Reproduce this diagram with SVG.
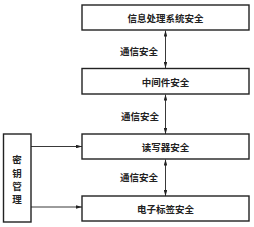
<svg xmlns="http://www.w3.org/2000/svg" width="254" height="227" viewBox="0 0 254 227">
<style>
.box{fill:#fff;stroke:#222;stroke-width:1.4}
.t{font-family:"Noto Sans CJK SC","Noto Sans CJK TC",sans-serif;font-size:9.5px;font-weight:600;fill:#222;text-anchor:middle;dominant-baseline:central}
.ln{stroke:#222;stroke-width:0.9;fill:none}
</style>
<defs>
<marker id="ah" viewBox="0 0 10 6" refX="10" refY="3" markerWidth="6" markerHeight="3.6" orient="auto-start-reverse" markerUnits="userSpaceOnUse">
<path d="M0,0 L10,3 L0,6 z" fill="#222"/>
</marker>
</defs>
<rect width="254" height="227" fill="#fff"/>
<g id="connectors">
<line class="ln" x1="165.5" y1="30.5" x2="165.5" y2="68" marker-start="url(#ah)" marker-end="url(#ah)"/>
<line class="ln" x1="165.5" y1="94.5" x2="165.5" y2="134" marker-start="url(#ah)" marker-end="url(#ah)"/>
<line class="ln" x1="165.5" y1="159.5" x2="165.5" y2="196" marker-start="url(#ah)" marker-end="url(#ah)"/>
<line class="ln" x1="31" y1="146.5" x2="82" y2="146.5" marker-end="url(#ah)"/>
<line class="ln" x1="31" y1="207" x2="82" y2="207" marker-end="url(#ah)"/>
<text class="t" x="139" y="51">通信安全</text>
<text class="t" x="140" y="116">通信安全</text>
<text class="t" x="139" y="177">通信安全</text>
</g>
<g id="n1"><rect class="box" x="82" y="5" width="167" height="25"/><text class="t" x="165.5" y="17.5">信息处理系统安全</text></g>
<g id="n2"><rect class="box" x="82" y="68.5" width="167" height="25.5"/><text class="t" x="165.5" y="81.5">中间件安全</text></g>
<g id="n3"><rect class="box" x="82" y="134" width="167" height="25"/><text class="t" x="165.5" y="146.5">读写器安全</text></g>
<g id="n4"><rect class="box" x="82" y="196" width="167" height="25"/><text class="t" x="165.5" y="208.5">电子标签安全</text></g>
<g id="key"><rect class="box" x="3.5" y="134" width="27.5" height="88"/>
<text class="t" x="17" y="159">密</text><text class="t" x="17" y="172.5">钥</text><text class="t" x="17" y="186">管</text><text class="t" x="17" y="199">理</text></g>
</svg>
